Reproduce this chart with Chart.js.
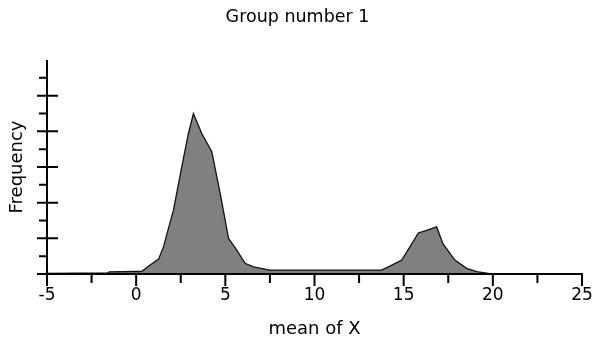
<!DOCTYPE html>
<html>
<head>
<meta charset="utf-8">
<script src="https://cdn.jsdelivr.net/npm/chart.js@4/dist/chart.umd.min.js"></script>
<style>
  html, body { margin: 0; padding: 0; background: #fff; }
  #wrap { width: 595px; height: 341px; }
</style>
</head>
<body>
<div id="wrap"><canvas id="c" width="595" height="341"></canvas></div>
<script>
// ---- data ----
const chartTitle = "Group number 1";
const xAxisTitle = "mean of X";
const yAxisTitle = "Frequency";
const meanX = [-5, -1.6, -1.5, -0.1, 0.3, 0.78, 1.25, 1.53, 2.09, 2.65, 2.93, 3.21, 3.68, 4.24, 4.71, 5.18, 5.64, 6.11, 6.57, 7.5, 13.76, 14.23, 14.89, 15.35, 15.82, 16.2, 16.85, 17.2, 17.87, 18.53, 19.1, 19.74, 20];
const frequency = [0.2, 0.3, 0.6, 0.7, 0.7, 2.5, 4.1, 7.6, 17.9, 32.4, 39.4, 45.0, 39.4, 34.3, 22.6, 10.0, 6.7, 3.0, 2.0, 1.1, 1.1, 2.2, 3.9, 7.6, 11.5, 12.1, 13.2, 8.5, 3.9, 1.6, 0.65, 0.2, 0];
const xTickValues = [-5, 0, 5, 10, 15, 20, 25];
const xMinorTickValues = [-2.5, 2.5, 7.5, 12.5, 17.5, 22.5];
const yMajorTickValues = [0, 10, 20, 30, 40, 50];
const yMinorTickValues = [5, 15, 25, 35, 45, 55];

const points = meanX.map((x, i) => ({ x: x, y: frequency[i] }));

const axisPlugin = {
  id: 'axisTicks',
  afterDraw(chart) {
    const ctx = chart.ctx;
    const xs = chart.scales.x, ys = chart.scales.y;
    const x0 = xs.getPixelForValue(xs.min);
    const x1 = xs.getPixelForValue(xs.max);
    const y0 = ys.getPixelForValue(0);
    const yTop = ys.getPixelForValue(ys.max);
    ctx.save();
    ctx.strokeStyle = '#000';
    ctx.lineWidth = 2;
    ctx.lineCap = 'butt';
    ctx.beginPath();
    // axes
    ctx.moveTo(x0 - 10, y0); ctx.lineTo(x1 + 1, y0);
    ctx.moveTo(x0, yTop); ctx.lineTo(x0, y0 + 12);
    // x ticks
    xTickValues.forEach(v => { const p = xs.getPixelForValue(v); ctx.moveTo(p, y0); ctx.lineTo(p, y0 + 12); });
    xMinorTickValues.forEach(v => { const p = xs.getPixelForValue(v); ctx.moveTo(p, y0); ctx.lineTo(p, y0 + 9); });
    // y ticks
    yMajorTickValues.forEach(v => { const p = ys.getPixelForValue(v); ctx.moveTo(x0 - 10, p); ctx.lineTo(x0 + 11, p); });
    yMinorTickValues.forEach(v => { const p = ys.getPixelForValue(v); ctx.moveTo(x0 - 8, p); ctx.lineTo(x0, p); });
    ctx.stroke();
    ctx.restore();
  }
};

new Chart(document.getElementById('c'), {
  type: 'line',
  data: {
    datasets: [{
      data: points,
      borderColor: '#111',
      borderWidth: 1.3,
      backgroundColor: '#808080',
      fill: 'origin',
      tension: 0,
      pointRadius: 0
    }]
  },
  options: {
    responsive: false,
    animation: false,
    devicePixelRatio: 1,
    layout: { padding: { left: 0, right: 0, top: 0, bottom: 0 } },
    plugins: {
      legend: { display: false },
      tooltip: { enabled: false },
      title: {
        display: true,
        text: chartTitle,
        color: '#000',
        font: { family: 'DejaVu Sans', size: 17.5, weight: 'normal' },
        padding: { top: 7, bottom: 32 }
      }
    },
    scales: {
      x: {
        type: 'linear',
        min: -5, max: 25,
        afterFit(s) { s.height = 67; s.paddingRight = 13; s.paddingLeft = 0; },
        afterBuildTicks(s) { s.ticks = xTickValues.map(v => ({ value: v })); },
        grid: { display: false, drawTicks: false },
        border: { display: false },
        ticks: {
          color: '#000',
          padding: 11,
          font: { family: 'DejaVu Sans', size: 17 },
          maxRotation: 0,
          autoSkip: false
        },
        title: {
          display: true,
          text: xAxisTitle,
          color: '#000',
          font: { family: 'DejaVu Sans', size: 18 },
          padding: { top: 0, bottom: 1 }
        }
      },
      y: {
        type: 'linear',
        min: 0, max: 60,
        afterFit(s) { s.width = 47; s.paddingTop = 0; s.paddingBottom = 0; },
        grid: { display: false, drawTicks: false },
        border: { display: false },
        ticks: { display: false },
        title: {
          display: true,
          text: yAxisTitle,
          color: '#000',
          font: { family: 'DejaVu Sans', size: 18 },
          padding: { top: 7, bottom: 0 }
        }
      }
    }
  },
  plugins: [axisPlugin]
});
</script>
</body>
</html>
